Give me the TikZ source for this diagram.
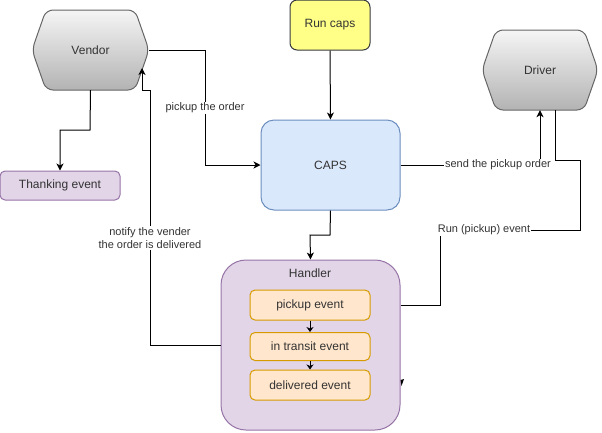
\documentclass[tikz,border=0pt]{standalone}
\usepackage{fontspec}
\setmainfont{Liberation Sans}
\usetikzlibrary{arrows.meta,calc}
\definecolor{hexline}{HTML}{666666}
\definecolor{hextop}{HTML}{F5F5F5}
\definecolor{hexbot}{HTML}{B3B3B3}
\definecolor{purfill}{HTML}{E1D5E7}
\definecolor{purline}{HTML}{9673A6}
\definecolor{yelfill}{HTML}{FFFF88}
\definecolor{yelline}{HTML}{36393D}
\definecolor{bluefill}{HTML}{DAE8FC}
\definecolor{blueline}{HTML}{6C8EBF}
\definecolor{orfill}{HTML}{FFE6CC}
\definecolor{orline}{HTML}{D79B00}
\definecolor{txt}{HTML}{333333}
\tikzset{
  every node/.style={font=\fontsize{12}{14}\selectfont, text=txt, inner sep=0pt},
  hexlook/.style={draw=hexline, line width=1pt, top color=hextop, bottom color=hexbot, rounded corners=7pt},
  purbox/.style={draw=purline, fill=purfill, line width=1pt, rounded corners=5pt},
  yelbox/.style={draw=yelline, fill=yelfill, line width=1pt, rounded corners=7pt},
  bluebox/.style={draw=blueline, fill=bluefill, line width=1pt, rounded corners=13pt},
  handlerbox/.style={draw=purline, fill=purfill, line width=1pt, rounded corners=25pt},
  evbox/.style={draw=orline, fill=orfill, line width=1pt, rounded corners=5pt},
  conn/.style={draw=black, line width=1pt},
  arr/.style={conn, -{Stealth[length=7pt,width=7pt,inset=2pt]}},
  sarr/.style={conn, -{Stealth[length=5pt,width=7pt,inset=1.5pt]}},
  elabel/.style={font=\fontsize{11}{13}\selectfont, text=txt, fill=white, inner sep=1pt, align=center}
}
\begin{document}
\begin{tikzpicture}[x=1pt,y=-1pt]
\useasboundingbox (0,0) rectangle (602,432);
% Vendor hexagon
\path[hexlook] (32,50) -- (46,10) -- (135,10) -- (149,50) -- (135,90) -- (46,90) -- cycle;
\node (vendor) [minimum width=117pt, minimum height=80pt] at (90.5,50) {Vendor};
% Driver hexagon
\path[hexlook] (482,70) -- (496,30) -- (584,30) -- (598,70) -- (584,110) -- (496,110) -- cycle;
\node (driver) [minimum width=116pt, minimum height=80pt] at (540,70) {Driver};
% Thanking event
\node (thank) [purbox, minimum width=120pt, minimum height=29pt] at (60,185.5) {Thanking event};
% Run caps
\node (runcaps) [yelbox, minimum width=80pt, minimum height=50pt] at (330,25) {Run caps};
% CAPS
\node (caps) [bluebox, minimum width=139pt, minimum height=90pt] at (330.5,165) {CAPS};
% Handler
\node (handler) [handlerbox, minimum width=179pt, minimum height=170pt] at (310.5,345) {};
\node (handlertitle) at (310,273) {Handler};
\node (pickup) [evbox, minimum width=120pt, minimum height=30pt] at (310,305) {pickup event};
\node (transit) [evbox, minimum width=120pt, minimum height=28pt] at (310,346.5) {in transit event};
\node (delivered) [evbox, minimum width=120pt, minimum height=30pt] at (310,385) {delivered event};
% stray arrowhead
\fill[black] (400.5,380) -- (404,379) -- (401.5,386) -- cycle;

% coordinates
\coordinate (v2c1) at (205,50);
\coordinate (v2c2) at (205,165);
\coordinate (vtt1) at (90,130);
\coordinate (vtt2) at (60,130);
\coordinate (c2h1) at (330,235);
\coordinate (c2h2) at (310,235);
\coordinate (c2d) at (540,165);
\coordinate (dtop) at (555,110);
\coordinate (d1) at (555,160);
\coordinate (d2) at (580,160);
\coordinate (d3) at (580,230);
\coordinate (d4) at (440,230);
\coordinate (d5) at (440,305);
\coordinate (n1) at (150,345);
\coordinate (n2) at (150,90);
\coordinate (n3) at (142,90);
\coordinate (n4) at (142,68);

% connectors
\draw[arr] (vendor.south) -- (vtt1) -- (vtt2) -- (thank.north);
\draw[arr] (vendor.east) -- (v2c1) -- (v2c2) -- (caps.west);
\node[elabel] (lpick) at (205,108) {pickup the order};
\draw[arr] (runcaps.south) -- (caps.north);
\draw[arr] (caps.east) -- (c2d) -- (driver.south);
\node[elabel] (lsend) at (498,165) {send the pickup order};
\draw[arr] (caps.south) -- (c2h1) -- (c2h2) -- (handler.north);
\draw[conn] (dtop) -- (d1) -- (d2) -- (d3) -- (d4) -- (d5) -- (handler.east |- d5);
\node[elabel] (lrun) at (484,230) {Run (pickup) event};
\draw[arr] (handler.west |- n1) -- (n1) -- (n2) -- (n3) -- (n4);
\node[elabel] (lnotify) at (150,238) {notify the vender\\the order is delivered};
\draw[sarr] (pickup.south) -- (transit.north);
\draw[sarr] (transit.south) -- (delivered.north);
\end{tikzpicture}
\end{document}
